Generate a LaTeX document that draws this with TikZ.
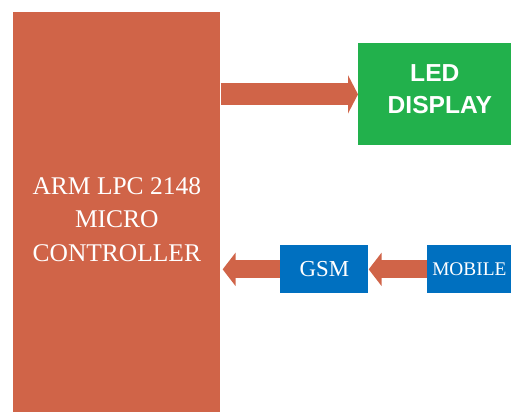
\documentclass[tikz,border=0pt]{standalone}
\usepackage{fontspec}
\setmainfont{Liberation Serif}
\newfontfamily\labelsans{Liberation Sans}
\usetikzlibrary{arrows.meta}
\definecolor{mcuorange}{HTML}{D06448}
\definecolor{ledgreen}{HTML}{22B14C}
\definecolor{gsmblue}{HTML}{0070C0}
\begin{document}
\begin{tikzpicture}[
  x=0.02cm, y=-0.02cm,
  block/.style={anchor=north west, inner sep=0pt, text=white, align=center},
  bigarrow/.style={draw=mcuorange, line width=0.44cm,
    -{Triangle[length=0.2cm, width=0.76cm]}},
  smallarrow/.style={draw=mcuorange, line width=0.36cm,
    -{Triangle[length=0.26cm, width=0.66cm]}}
]
  \useasboundingbox (0,0) rectangle (511,412);

  \node[block, fill=mcuorange, minimum width=4.14cm, minimum height=8cm,
    font=\fontsize{14.5}{19}\selectfont] (mcu) at (13,12)
    {\rule{0pt}{0.62cm}ARM LPC 2148\\MICRO\\CONTROLLER};
  \node[block, fill=ledgreen, minimum width=3.06cm, minimum height=2.04cm,
    font=\labelsans\bfseries\fontsize{14}{18}\selectfont] (led) at (358,43)
    {LED\\\hspace{0.2cm}DISPLAY\rule[-0.2cm]{0pt}{0pt}};
  \node[block, fill=gsmblue, minimum width=1.76cm, minimum height=0.96cm,
    font=\fontsize{13}{15}\selectfont] (gsm) at (280,245) {GSM};
  \node[block, fill=gsmblue, minimum width=1.68cm, minimum height=0.96cm,
    font=\fontsize{11}{13}\selectfont] (mobile) at (427,245) {MOBILE};

  \draw[bigarrow] (led.west -| mcu.east) -- (led.west);
  \draw[smallarrow] (mobile.west) -- (gsm.east);
  \draw[smallarrow] (gsm.west) -- ([xshift=0.04cm]gsm.west -| mcu.east);
\end{tikzpicture}
\end{document}
